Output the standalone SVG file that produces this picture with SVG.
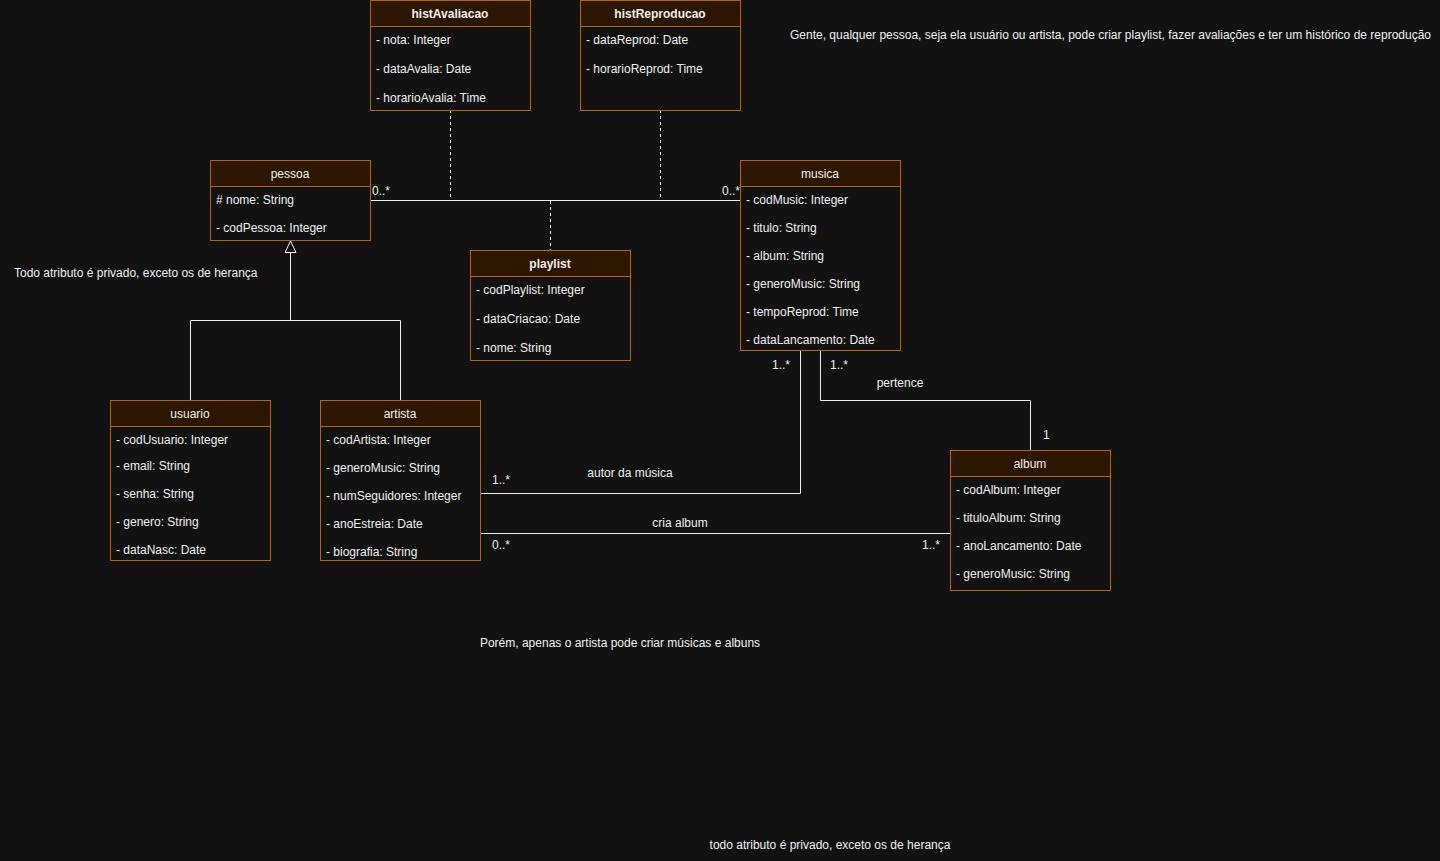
<svg xmlns="http://www.w3.org/2000/svg" width="1440" height="861" viewBox="0 0 1440 861">
<style>
text{font-family:"Liberation Sans",Arial,sans-serif;font-size:12px;fill:#f0f0f0}
.box{fill:#121212;stroke:#b46504;stroke-width:1}
.hdr{fill:#2d1600;stroke:#b46504;stroke-width:1}
.t{text-anchor:middle}
.b{font-weight:bold}
.ln{fill:none;stroke:#f0f0f0;stroke-width:1}
.dash{fill:none;stroke:#f0f0f0;stroke-width:1;stroke-dasharray:3 3}
.tri{fill:#121212;stroke:#f0f0f0;stroke-width:1}
</style>
<rect width="1440" height="861" fill="#121212"/>

<g id="connectors">
<path class="ln" d="M370,200.5 H740"/>
<path class="dash" d="M450.5,110 V200"/>
<path class="dash" d="M660.5,110 V200"/>
<path class="dash" d="M550.5,201 V250"/>
<path class="ln" d="M190.5,400 V320.5 H400.5 V400"/>
<path class="ln" d="M290.5,320 V252"/>
<polygon class="tri" points="290.5,241 296,252.5 285,252.5"/>
<path class="ln" d="M480,493.5 H800.5 V350"/>
<path class="ln" d="M480,533.5 H950"/>
<path class="ln" d="M820.5,350 V400.5 H1030.5 V450"/>
<text x="372" y="195">0..*</text>
<text x="722" y="195">0..*</text>
<text x="492" y="484">1..*</text>
<text x="772" y="369">1..*</text>
<text x="630" y="477" class="t">autor da música</text>
<text x="492" y="549">0..*</text>
<text x="922" y="549">1..*</text>
<text x="680" y="527" class="t">cria album</text>
<text x="830" y="369">1..*</text>
<text x="900" y="387" class="t">pertence</text>
<text x="1043" y="439">1</text>
</g>

<g id="histAvaliacao">
<rect class="box" x="370.5" y="0.5" width="160" height="110"/>
<rect class="hdr" x="370.5" y="0.5" width="160" height="26"/>
<text x="450" y="18" class="t b">histAvaliacao</text>
<text x="376" y="44">- nota: Integer</text>
<text x="376" y="73">- dataAvalia: Date</text>
<text x="376" y="102">- horarioAvalia: Time</text>
</g>

<g id="histReproducao">
<rect class="box" x="580.5" y="0.5" width="160" height="110"/>
<rect class="hdr" x="580.5" y="0.5" width="160" height="26"/>
<text x="660" y="18" class="t b">histReproducao</text>
<text x="586" y="44">- dataReprod: Date</text>
<text x="586" y="73">- horarioReprod: Time</text>
</g>

<g id="pessoa">
<rect class="box" x="210.5" y="160.5" width="160" height="80"/>
<rect class="hdr" x="210.5" y="160.5" width="160" height="26"/>
<text x="290" y="178" class="t">pessoa</text>
<text x="216" y="204"># nome: String</text>
<text x="216" y="232">- codPessoa: Integer</text>
</g>

<g id="playlist">
<rect class="box" x="470.5" y="250.5" width="160" height="110"/>
<rect class="hdr" x="470.5" y="250.5" width="160" height="26"/>
<text x="550" y="268" class="t b">playlist</text>
<text x="476" y="294">- codPlaylist: Integer</text>
<text x="476" y="323">- dataCriacao: Date</text>
<text x="476" y="352">- nome: String</text>
</g>

<g id="musica">
<rect class="box" x="740.5" y="160.5" width="160" height="190"/>
<rect class="hdr" x="740.5" y="160.5" width="160" height="26"/>
<text x="820" y="178" class="t">musica</text>
<text x="746" y="204">- codMusic: Integer</text>
<text x="746" y="232">- titulo: String</text>
<text x="746" y="260">- album: String</text>
<text x="746" y="288">- generoMusic: String</text>
<text x="746" y="316">- tempoReprod: Time</text>
<text x="746" y="344">- dataLancamento: Date</text>
</g>

<g id="usuario">
<rect class="box" x="110.5" y="400.5" width="160" height="160"/>
<rect class="hdr" x="110.5" y="400.5" width="160" height="26"/>
<text x="190" y="418" class="t">usuario</text>
<text x="116" y="444">- codUsuario: Integer</text>
<text x="116" y="470">- email: String</text>
<text x="116" y="498">- senha: String</text>
<text x="116" y="526">- genero: String</text>
<text x="116" y="554">- dataNasc: Date</text>
</g>

<g id="artista">
<rect class="box" x="320.5" y="400.5" width="160" height="160"/>
<rect class="hdr" x="320.5" y="400.5" width="160" height="26"/>
<text x="400" y="418" class="t">artista</text>
<text x="326" y="444">- codArtista: Integer</text>
<text x="326" y="472">- generoMusic: String</text>
<text x="326" y="500">- numSeguidores: Integer</text>
<text x="326" y="528">- anoEstreia: Date</text>
<text x="326" y="556">- biografia: String</text>
</g>

<g id="album">
<rect class="box" x="950.5" y="450.5" width="160" height="140"/>
<rect class="hdr" x="950.5" y="450.5" width="160" height="26"/>
<text x="1030" y="468" class="t">album</text>
<text x="956" y="494">- codAlbum: Integer</text>
<text x="956" y="522">- tituloAlbum: String</text>
<text x="956" y="550">- anoLancamento: Date</text>
<text x="956" y="578">- generoMusic: String</text>
</g>

<g id="notes">
<text x="14" y="277">Todo atributo é privado, exceto os de herança</text>
<text x="790" y="39">Gente, qualquer pessoa, seja ela usuário ou artista, pode criar playlist, fazer avaliações e ter um histórico de reprodução</text>
<text x="620" y="647" class="t">Porém, apenas o artista pode criar músicas e albuns</text>
<text x="830" y="849" class="t">todo atributo é privado, exceto os de herança</text>
</g>
</svg>
